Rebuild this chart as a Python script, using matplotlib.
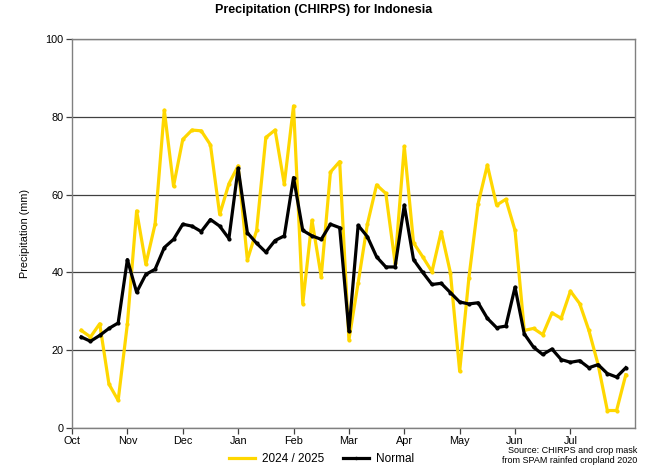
import matplotlib
matplotlib.use("Agg")
import matplotlib.pyplot as plt
from matplotlib.lines import Line2D

plt.rcParams['font.family'] = ['Liberation Sans', 'DejaVu Sans']

months = ["Oct", "Nov", "Dec", "Jan", "Feb", "Mar", "Apr", "May", "Jun", "Jul"]
pentads_per_month = 6

current = [25.1, 23.4, 26.8, 11.3, 7.1, 26.8, 55.8, 42.1, 52.4, 81.7,
           62.2, 74.2, 76.6, 76.4, 72.8, 54.9, 62.8, 67.4, 43.2, 50.8,
           74.7, 76.6, 62.7, 82.8, 32.0, 53.4, 38.9, 65.8, 68.5, 22.7,
           37.3, 52.4, 62.5, 60.3, 42.5, 72.4, 47.6, 44.0, 40.2, 50.5,
           39.9, 14.6, 38.6, 57.7, 67.6, 57.3, 58.8, 50.8, 25.1, 25.6,
           24.0, 29.6, 28.2, 35.2, 32.0, 25.1, 16.3, 4.5, 4.5, 13.7]

normal = [23.4, 22.3, 23.8, 25.6, 27.0, 43.3, 34.9, 39.5, 40.8, 46.4,
          48.5, 52.4, 51.9, 50.5, 53.6, 51.9, 48.7, 66.8, 50.2, 47.5,
          45.2, 48.2, 49.4, 64.4, 50.8, 49.4, 48.5, 52.4, 51.5, 24.9,
          52.1, 49.2, 44.0, 41.4, 41.4, 57.3, 43.3, 40.0, 36.9, 37.2,
          34.8, 32.4, 31.9, 32.2, 28.2, 25.8, 26.2, 36.2, 24.2, 20.8,
          18.9, 20.3, 17.6, 16.9, 17.3, 15.5, 16.3, 14.0, 13.1, 15.5]

labels = ["2024 / 2025", "Normal"]
yellow = "#FFD700"

x = list(range(1, len(current) + 1))

fig = plt.figure(figsize=(6.47, 4.73), dpi=100)
ax = fig.add_axes([0.1113, 0.0951, 0.8702, 0.8224])

ax.plot(x, current, color=yellow, lw=2.3, marker='o', ms=2.0, zorder=3)
ax.plot(x, normal, color='black', lw=2.3, marker='o', ms=2.0, zorder=4)

ax.set_xlim(0, 61)
ax.set_ylim(0, 100)
ax.set_yticks([0, 20, 40, 60, 80, 100])
ax.set_xticks([i * pentads_per_month for i in range(len(months))])
ax.set_xticklabels(months)
ax.yaxis.grid(True, color='#404040', lw=0.9)
ax.set_axisbelow(True)
for s in ax.spines.values():
    s.set_color('#808080')
    s.set_linewidth(1.0)
ax.tick_params(axis='both', labelsize=7.8, color='#404040', length=4, width=0.9, pad=2)
ax.set_ylabel("Precipitation (mm)", fontsize=7.8, labelpad=11)

fig.text(0.5, 0.978, "Precipitation (CHIRPS) for Indonesia", ha='center', va='center',
         fontsize=9, fontweight='bold')

handles = [Line2D([], [], color=yellow, lw=2.3),
           Line2D([], [], color='black', lw=2.3, marker='o', ms=1.5)]
fig.legend(handles, labels, loc='center', bbox_to_anchor=(0.497, 0.029), ncol=2,
           frameon=False, fontsize=8.5, handlelength=2.2, columnspacing=1.6, handletextpad=0.6)

fig.text(0.985, 0.037, "Source: CHIRPS and crop mask\nfrom SPAM rainfed cropland 2020",
         ha='right', va='center', fontsize=6.5, linespacing=1.1)

fig.savefig("out.png", dpi=100)
